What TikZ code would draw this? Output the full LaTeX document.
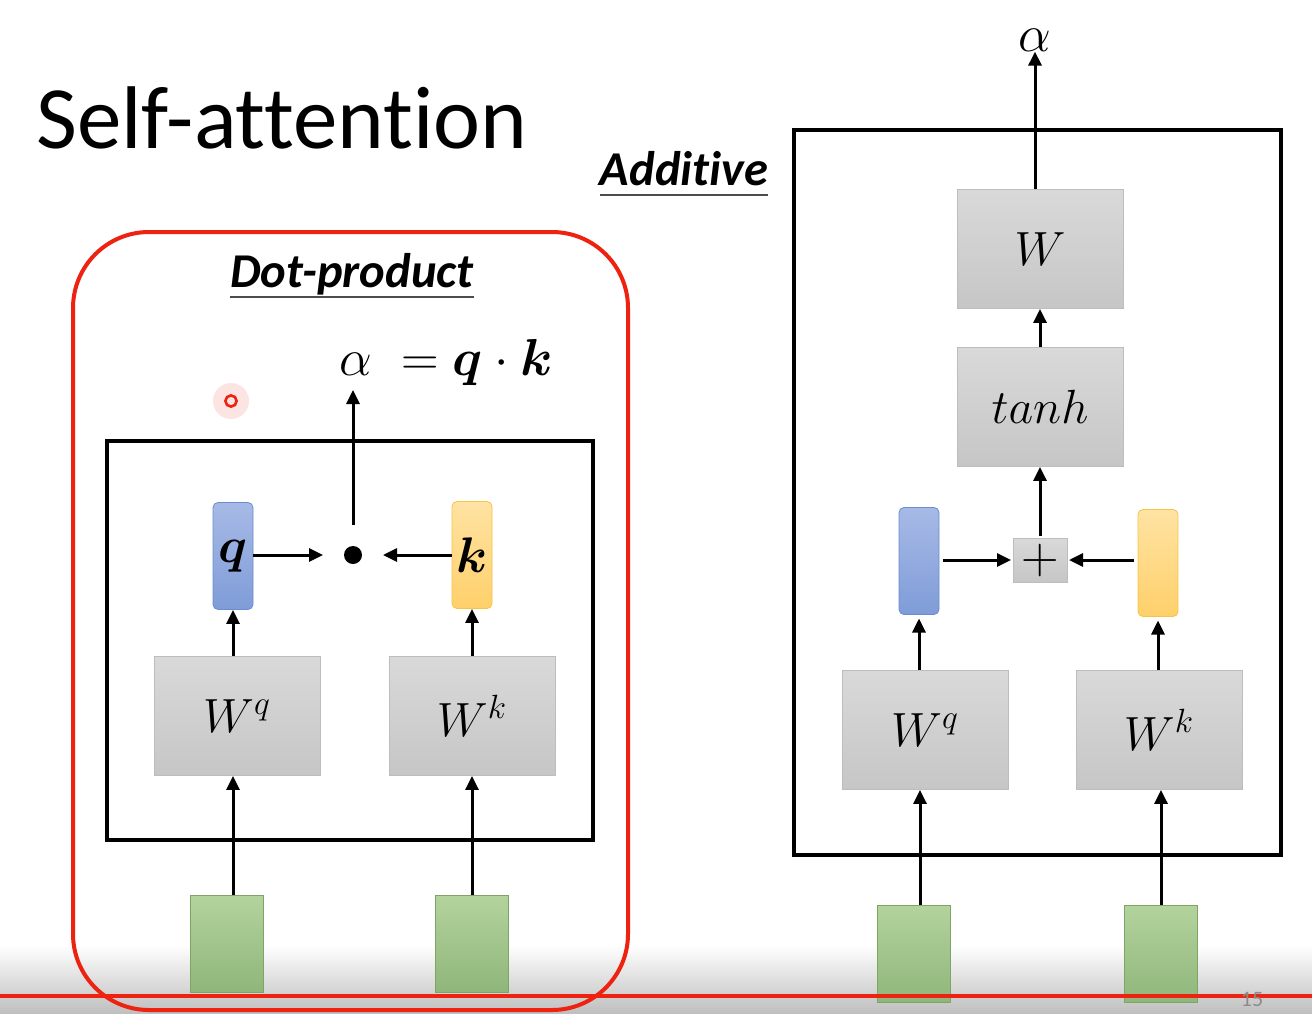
\RequirePackage{fix-cm}
\documentclass[tikz,border=0pt]{standalone}
\usepackage{amsmath}
\usepackage{bm}
\usepackage{fontspec}
\setmainfont[Ligatures=NoCommon]{Carlito}
\usetikzlibrary{arrows.meta,positioning}
\definecolor{BoxTop}{HTML}{D9D9D9}
\definecolor{BoxBot}{HTML}{C6C6C6}
\definecolor{BoxRule}{HTML}{BDBDBD}
\definecolor{QueryTop}{HTML}{A7BAE6}
\definecolor{QueryBot}{HTML}{7F9CD8}
\definecolor{QueryRule}{HTML}{6C8CCF}
\definecolor{KeyTop}{HTML}{FFE3A3}
\definecolor{KeyBot}{HTML}{FFD06B}
\definecolor{KeyRule}{HTML}{F6C445}
\definecolor{InTop}{HTML}{B3D39D}
\definecolor{InBot}{HTML}{8FB67A}
\definecolor{InRule}{HTML}{7DA566}
\definecolor{SlideRed}{HTML}{EE2211}

\begin{document}
\begin{tikzpicture}[
  x=0.5pt,y=-0.5pt,
  wbox/.style={draw=BoxRule,top color=BoxTop,bottom color=BoxBot,minimum width=83pt,minimum height=59.5pt,inner sep=0pt,font=\fontsize{24}{28}\selectfont},
  qbox/.style={draw=QueryRule,top color=QueryTop,bottom color=QueryBot,rounded corners=2.5pt,minimum width=20pt,minimum height=53.5pt,inner sep=0pt,font=\fontsize{25}{28}\selectfont},
  kbox/.style={qbox,draw=KeyRule,top color=KeyTop,bottom color=KeyBot},
  inbox/.style={draw=InRule,top color=InTop,bottom color=InBot,minimum width=36.5pt,minimum height=48.5pt,inner sep=0pt},
  plusbox/.style={draw=BoxRule,top color=BoxTop,bottom color=BoxBot,minimum width=27pt,minimum height=22pt,inner sep=0pt,outer sep=1pt,font=\fontsize{26}{28}\selectfont},
  dotnode/.style={circle,fill=black,minimum size=9pt,inner sep=0pt,outer sep=10.5pt},
  frame/.style={draw=black,line width=2pt},
  arrow/.style={-{Triangle[length=7pt,width=6.5pt]},line width=1.5pt},
  head/.style={inner sep=0pt,font=\fontsize{24.3}{27}\selectfont\bfseries\itshape},
  uline/.style={draw=black!70,line width=1pt},
  mathlabel/.style={inner sep=0pt,font=\fontsize{26}{28}\selectfont}
]
  \useasboundingbox (0,0) rectangle (1312,1013);
  \fill[white] (0,0) rectangle (1312,1013);
  \fill[top color=white,bottom color=black!25] (0,945) rectangle (1312,1013);

  % title and headings
  \node[inner sep=0pt,anchor=base west,font=\fontsize{44.5}{48}\selectfont] (title) at (36,148) {Self-attention};
  \node[head,anchor=base] (dp) at (352,287) {Dot-product};
  \node[head,anchor=base] (add) at (684,185) {Additive};
  \draw[uline] ([yshift=-5pt]dp.base west) -- ([yshift=-5pt]dp.base east);
  \draw[uline] ([yshift=-5pt]add.base west) -- ([yshift=-5pt]add.base east);

  % dot-product
  \draw[SlideRed,line width=2pt,rounded corners=38pt] (73,232) rectangle (628,1010);
  \draw[frame] (107,441) rectangle (593,840);
  \node[mathlabel,anchor=base west] (score) at (339,375) {$\alpha\;=\bm{q}\cdot\bm{k}$};
  \coordinate (scoretip) at (353,390);
  \node[qbox] (q) at (233,556) {$\bm{q}$};
  \node[kbox] (k) at (472,555) {$\bm{k}$};
  \node[dotnode] (dot) at (353,555) {};
  \node[wbox] (wq) at (237,716) {$W^q$};
  \node[wbox] (wk) at (472,716) {$W^k$};
  \node[inbox] (x1) at (227,944) {};
  \node[inbox] (x2) at (472,944) {};
  \draw[arrow] (q.east |- dot) -- (dot);
  \draw[arrow] (k) -- (dot);
  \draw[arrow] (dot) -- (scoretip);
  \draw[arrow] (q |- wq.north) -- (q);
  \draw[arrow] (wk) -- (k);
  \draw[arrow] ([xshift=3pt]x1.north) -- ([xshift=3pt]x1.north |- wq.south);
  \draw[arrow] (x2) -- (wk);

  % additive
  \draw[frame] (794,130) rectangle (1281,855);
  \node[mathlabel] (alpha) at (1035,40) {$\alpha$};
  \node[wbox] (w) at (1040,249) {$W$};
  \node[wbox] (tanh) at (1040,407) {$tanh$};
  \node[plusbox] (plus) at (1040,560) {$+$};
  \node[qbox,outer sep=2pt] (q2) at (919,561) {};
  \node[kbox,outer sep=2pt] (k2) at (1158,563) {};
  \node[wbox] (wq2) at (925,730) {$W^q$};
  \node[wbox] (wk2) at (1159,730) {$W^k$};
  \node[inbox] (x3) at (914,954) {};
  \node[inbox] (x4) at (1161,954) {};
  \draw[arrow] (alpha |- w.north) -- (alpha);
  \draw[arrow] (tanh) -- (w);
  \draw[arrow] (plus) -- (tanh);
  \draw[arrow] (q2.east |- plus) -- (plus);
  \draw[arrow] (k2.west |- plus) -- (plus);
  \draw[arrow] (q2 |- wq2.north) -- (q2);
  \draw[arrow] (k2 |- wk2.north) -- (k2);
  \draw[arrow] ([xshift=3pt]x3.north) -- ([xshift=3pt]x3.north |- wq2.south);
  \draw[arrow] (x4) -- (x4 |- wk2.south);

  % slide marks
  \fill[SlideRed,opacity=0.12] (231,401) circle (9pt);
  \draw[SlideRed,line width=1.3pt] (231,401) circle (2.8pt);
  \draw[SlideRed,line width=2pt] (0,996) -- (1312,996);
  \node[inner sep=0pt,text=black!45,font=\fontsize{11}{12}\selectfont] (page) at (1252,999) {15};
\end{tikzpicture}
\end{document}
